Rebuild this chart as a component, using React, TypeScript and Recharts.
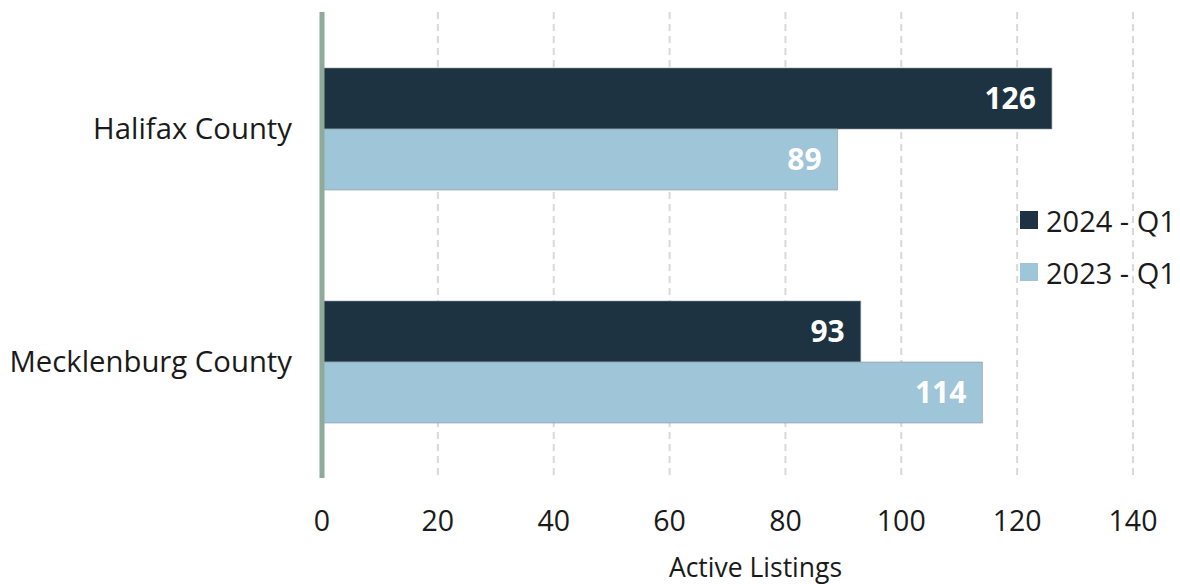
import { Bar, BarChart, CartesianGrid, LabelList, Legend, XAxis, YAxis } from 'recharts'

const counties = ['Halifax County', 'Mecklenburg County']
const q1of2024 = [126, 93]
const q1of2023 = [89, 114]
const xTicks = [0, 20, 40, 60, 80, 100, 120, 140]

const data = counties.map((county, i) => ({ county, y2024: q1of2024[i], y2023: q1of2023[i] }))

const series = [
  { key: 'y2024', label: '2024 - Q1', color: '#1d3341' },
  { key: 'y2023', label: '2023 - Q1', color: '#9ec5d8' },
]

const font = '"Open Sans", "Noto Sans", sans-serif'

function LegendBox() {
  return (
    <div style={{ fontFamily: font, fontSize: 29, color: '#1a1a1a' }}>
      {series.map(s => (
        <div key={s.key} style={{ display: 'flex', alignItems: 'center', height: 52 }}>
          <span style={{ width: 18, height: 18, background: s.color, marginRight: 8, display: 'inline-block' }} />
          <span>{s.label}</span>
        </div>
      ))}
    </div>
  )
}

export default function App() {
  return (
    <div style={{ position: 'absolute', left: 0, top: 0, background: '#fff' }}>
      <BarChart width={1180} height={584} data={data} layout="vertical" margin={{ top: 12, right: 47, bottom: 0, left: 0 }} barGap={0}>
        <CartesianGrid horizontal={false} stroke="#d9d9d9" strokeWidth={2} strokeDasharray="7 5" />
        <XAxis type="number" domain={[0, 140]} ticks={xTicks} axisLine={false} tickLine={false} tickSize={0} tickMargin={33} height={106}
          tick={{ fontSize: 28.5, fill: '#1a1a1a', fontFamily: font }}
          label={{ value: 'Active Listings', position: 'insideBottom', offset: 7, dx: 28, fontSize: 26.5, fill: '#1a1a1a', fontFamily: font }} />
        <YAxis type="category" dataKey="county" width={322} axisLine={{ stroke: '#8faa9b', strokeWidth: 5 }} tickLine={false} tickSize={0} tickMargin={30}
          tick={{ fontSize: 29.3, fill: '#1a1a1a', fontFamily: font }} />
        <Legend layout="vertical" align="center" verticalAlign="middle" content={<LegendBox />}
          wrapperStyle={{ left: 1020, top: 194, width: 160 }} />
        {series.map(s => (
          <Bar key={s.key} dataKey={s.key} name={s.label} fill={s.color} barSize={61} stroke="#8a99a0" strokeOpacity={0.6} strokeWidth={1} isAnimationActive={false}>
            <LabelList dataKey={s.key} position="insideRight" offset={16} fill="#ffffff" fontSize={30} fontWeight={700} fontFamily={font} />
          </Bar>
        ))}
      </BarChart>
    </div>
  )
}
